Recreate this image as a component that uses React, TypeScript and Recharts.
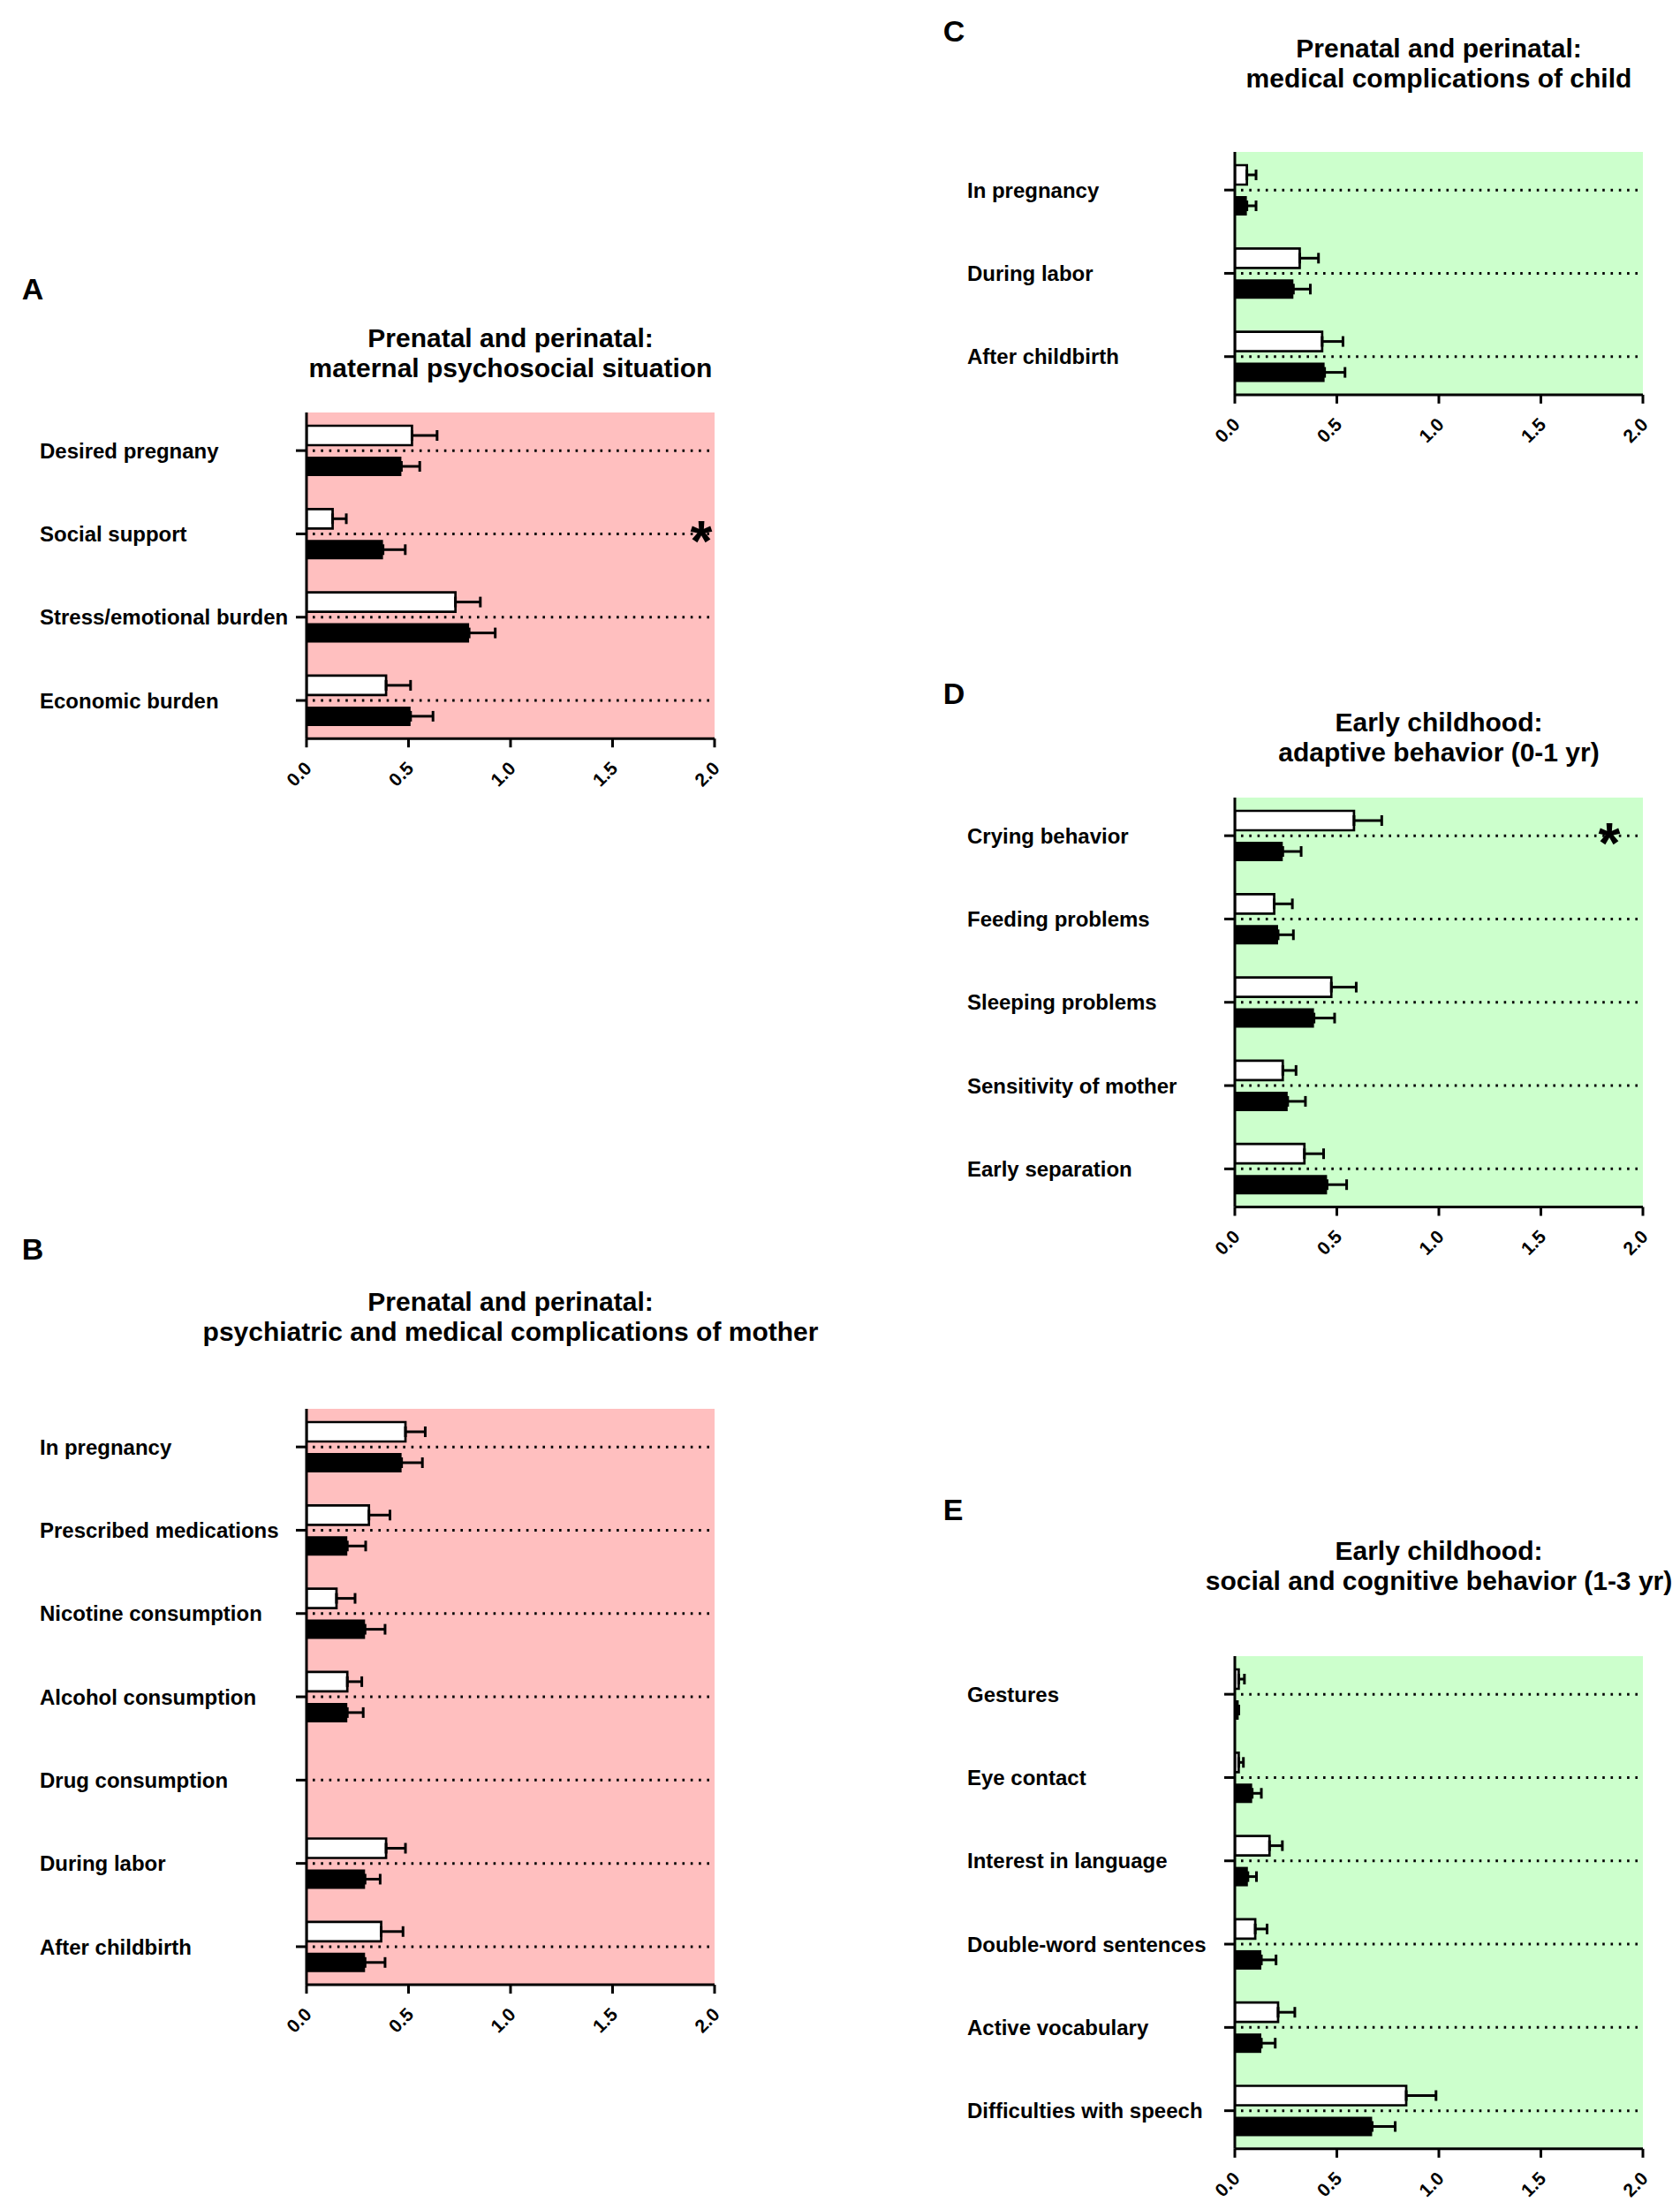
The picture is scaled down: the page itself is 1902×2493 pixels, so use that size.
import React from "react";
import {
  BarChart,
  Bar,
  XAxis,
  YAxis,
  CartesianGrid,
  ErrorBar,
  ReferenceDot,
  ReferenceLine,
} from "recharts";

const FONT = "'Liberation Sans', Arial, Helvetica, sans-serif";
const PINK = "#FFBFBF";
const GREEN = "#CCFFCC";

const xTicks = [0, 0.5, 1, 1.5, 2];

// A: maternal psychosocial situation
const catsA = ["Desired pregnany", "Social support", "Stress/emotional burden", "Economic burden"];
const whiteA = [0.517, 0.128, 0.73, 0.39];
const whiteErrA = [0.123, 0.067, 0.122, 0.12];
const blackA = [0.465, 0.375, 0.797, 0.51];
const blackErrA = [0.09, 0.109, 0.128, 0.11];
const sigA = ["Social support"];

// B: psychiatric and medical complications of mother
const catsB = [
  "In pregnancy",
  "Prescribed medications",
  "Nicotine consumption",
  "Alcohol consumption",
  "Drug consumption",
  "During labor",
  "After childbirth",
];
const whiteB = [0.485, 0.306, 0.147, 0.2, 0, 0.39, 0.366];
const whiteErrB = [0.097, 0.103, 0.091, 0.071, 0, 0.095, 0.107];
const blackB = [0.466, 0.2, 0.287, 0.2, 0, 0.287, 0.287];
const blackErrB = [0.102, 0.09, 0.098, 0.078, 0, 0.074, 0.098];

// C: medical complications of child
const catsC = ["In pregnancy", "During labor", "After childbirth"];
const whiteC = [0.059, 0.318, 0.428];
const whiteErrC = [0.045, 0.092, 0.102];
const blackC = [0.059, 0.287, 0.44];
const blackErrC = [0.045, 0.083, 0.1];

// D: adaptive behavior (0-1 yr)
const catsD = [
  "Crying behavior",
  "Feeding problems",
  "Sleeping problems",
  "Sensitivity of mother",
  "Early separation",
];
const whiteD = [0.584, 0.193, 0.473, 0.235, 0.341];
const whiteErrD = [0.136, 0.089, 0.122, 0.065, 0.094];
const blackD = [0.235, 0.212, 0.388, 0.259, 0.452];
const blackErrD = [0.09, 0.075, 0.101, 0.087, 0.096];
const sigD = ["Crying behavior"];

// E: social and cognitive behavior (1-3 yr)
const catsE = [
  "Gestures",
  "Eye contact",
  "Interest in language",
  "Double-word sentences",
  "Active vocabulary",
  "Difficulties with speech",
];
const whiteE = [0.019, 0.019, 0.17, 0.1, 0.212, 0.84];
const whiteErrE = [0.028, 0.023, 0.063, 0.058, 0.082, 0.146];
const blackE = [0.019, 0.085, 0.064, 0.13, 0.13, 0.673];
const blackErrE = [0, 0.045, 0.042, 0.072, 0.068, 0.113];

type Row = {
  name: string;
  white: number;
  whiteErr: number[];
  black: number;
  blackErr: number[];
};

function buildRows(cats: string[], w: number[], we: number[], b: number[], be: number[]): Row[] {
  // error bars only point to the right
  return cats.map((name, i) => ({
    name,
    white: w[i],
    whiteErr: [0, we[i]],
    black: b[i],
    blackErr: [0, be[i]],
  }));
}

const BAND = 94.3;
const PAD = -4;
const PLOT_W = 462;
const TOP = 10;
const XAXIS_H = 90;
const RIGHT = 40;

const CatTick = (p: any) => (
  <text
    x={p.labelX}
    y={p.y}
    dy={8.6}
    textAnchor="start"
    fontFamily={FONT}
    fontWeight="bold"
    fontSize={24}
    fill="#000"
  >
    {p.payload.value}
  </text>
);

const ValTick = (p: any) => {
  const ax = p.x + 7;
  const ay = p.y + 25;
  return (
    <text
      x={ax}
      y={ay}
      transform={`rotate(-45 ${ax} ${ay})`}
      textAnchor="end"
      fontFamily={FONT}
      fontWeight="bold"
      fontSize={21}
      fill="#000"
    >
      {Number(p.payload.value).toFixed(1)}
    </text>
  );
};

const StarShape = (p: any) => (
  <text
    x={p.cx}
    y={p.cy}
    dy={31}
    textAnchor="middle"
    fontFamily={FONT}
    fontWeight="bold"
    fontSize={64}
    fill="#000"
  >
    *
  </text>
);

interface PanelProps {
  letter: string;
  letterX: number;
  letterY: number;
  title: string[];
  titleY: number;
  data: Row[];
  bg: string;
  chartLeft: number;
  plotLeft: number;
  plotTop: number;
  labelX: number;
  sig?: string[];
  starX?: number;
}

function Panel(props: PanelProps) {
  const { letter, letterX, letterY, title, titleY, data, bg, chartLeft, plotLeft, plotTop, labelX } =
    props;
  const sig = props.sig || [];
  const plotH = data.length * BAND + 2 * PAD;
  const yAxisW = plotLeft - chartLeft;
  const width = yAxisW + PLOT_W + RIGHT;
  const height = TOP + plotH + XAXIS_H;
  const titleCx = plotLeft + PLOT_W / 2;
  const axisStyle = { stroke: "#000", strokeWidth: 3 };

  return (
    <>
      <div
        style={{
          position: "absolute",
          left: letterX,
          top: letterY,
          transform: "translate(-50%, -50%)",
          font: `bold 34px ${FONT}`,
          lineHeight: 1,
        }}
      >
        {letter}
      </div>
      <div
        style={{
          position: "absolute",
          left: titleCx - 350,
          width: 700,
          top: titleY - 17,
          textAlign: "center",
          font: `bold 30px ${FONT}`,
          lineHeight: "34px",
          whiteSpace: "nowrap",
        }}
      >
        {title[0]}
        <br />
        {title[1]}
      </div>
      <div style={{ position: "absolute", left: chartLeft, top: plotTop - TOP }}>
        <BarChart
          layout="vertical"
          width={width}
          height={height}
          data={data}
          margin={{ top: TOP, right: RIGHT, bottom: 0, left: 0 }}
          barSize={22}
          barGap={13}
        >
          <CartesianGrid horizontal={false} vertical={false} fill={bg} fillOpacity={1} />
          <XAxis
            type="number"
            domain={[0, 2]}
            ticks={xTicks}
            interval={0}
            allowDataOverflow
            height={XAXIS_H}
            tickSize={10}
            tickMargin={0}
            axisLine={axisStyle}
            tickLine={axisStyle}
            tick={ValTick}
          />
          <YAxis
            type="category"
            dataKey="name"
            width={yAxisW}
            interval={0}
            padding={{ top: PAD, bottom: PAD }}
            tickSize={12}
            axisLine={axisStyle}
            tickLine={axisStyle}
            tick={(p: any) => <CatTick {...p} labelX={labelX - chartLeft} />}
          />
          {data.map((r) => (
            <ReferenceLine
              key={r.name}
              y={r.name}
              stroke="#000"
              strokeWidth={3}
              strokeDasharray="2.6 6.7"
              strokeDashoffset={-7}
            />
          ))}
          <Bar dataKey="white" fill="#fff" stroke="#000" strokeWidth={2.7} isAnimationActive={false}>
            <ErrorBar dataKey="whiteErr" direction="x" width={6} strokeWidth={3} stroke="#000" />
          </Bar>
          <Bar dataKey="black" fill="#000" isAnimationActive={false}>
            <ErrorBar dataKey="blackErr" direction="x" width={6} strokeWidth={3} stroke="#000" />
          </Bar>
          {sig.map((s) => (
            <ReferenceDot key={s} x={props.starX} y={s} r={0} ifOverflow="visible" shape={StarShape} />
          ))}
        </BarChart>
      </div>
    </>
  );
}

const dataA = buildRows(catsA, whiteA, whiteErrA, blackA, blackErrA);
const dataB = buildRows(catsB, whiteB, whiteErrB, blackB, blackErrB);
const dataC = buildRows(catsC, whiteC, whiteErrC, blackC, blackErrC);
const dataD = buildRows(catsD, whiteD, whiteErrD, blackD, blackErrD);
const dataE = buildRows(catsE, whiteE, whiteErrE, blackE, blackErrE);

export default function App() {
  return (
    <div
      style={{
        position: "absolute",
        left: 0,
        top: 0,
        width: 1902,
        height: 2493,
        background: "#fff",
        overflow: "hidden",
        color: "#000",
      }}
    >
      <Panel
        letter="A"
        letterX={37}
        letterY={327}
        title={["Prenatal and perinatal:", "maternal psychosocial situation"]}
        titleY={383}
        data={dataA}
        bg={PINK}
        chartLeft={0}
        plotLeft={347}
        plotTop={467}
        labelX={45}
        sig={sigA}
        starX={1.935}
      />
      <Panel
        letter="B"
        letterX={37}
        letterY={1414}
        title={["Prenatal and perinatal:", "psychiatric and medical complications of mother"]}
        titleY={1474}
        data={dataB}
        bg={PINK}
        chartLeft={0}
        plotLeft={347}
        plotTop={1595}
        labelX={45}
      />
      <Panel
        letter="C"
        letterX={1080}
        letterY={35}
        title={["Prenatal and perinatal:", "medical complications of child"]}
        titleY={55}
        data={dataC}
        bg={GREEN}
        chartLeft={1050}
        plotLeft={1398}
        plotTop={172}
        labelX={1095}
      />
      <Panel
        letter="D"
        letterX={1080}
        letterY={785}
        title={["Early childhood:", "adaptive behavior (0-1 yr)"]}
        titleY={818}
        data={dataD}
        bg={GREEN}
        chartLeft={1050}
        plotLeft={1398}
        plotTop={903}
        labelX={1095}
        sig={sigD}
        starX={1.835}
      />
      <Panel
        letter="E"
        letterX={1079}
        letterY={1709}
        title={["Early childhood:", "social and cognitive behavior (1-3 yr)"]}
        titleY={1756}
        data={dataE}
        bg={GREEN}
        chartLeft={1050}
        plotLeft={1398}
        plotTop={1875}
        labelX={1095}
      />
    </div>
  );
}
